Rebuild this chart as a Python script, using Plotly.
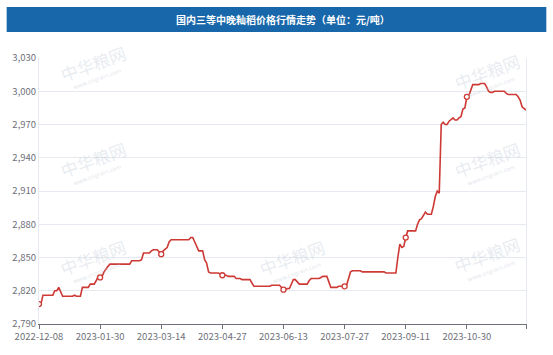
import pandas as pd
import plotly.graph_objects as go

# ---- data -------------------------------------------------------------
title_text = "国内三等中晚籼稻价格行情走势（单位：元/吨）"

start_date = "2022-12-08"
end_date = "2023-12-11"
holidays = ["2023-01-02", "2023-01-23", "2023-01-24", "2023-01-25", "2023-01-26",
            "2023-01-27", "2023-04-05", "2023-05-01", "2023-05-02", "2023-05-03",
            "2023-06-22", "2023-06-23", "2023-09-29", "2023-10-02", "2023-10-03",
            "2023-10-04", "2023-10-05", "2023-10-06", "2023-08-15"]
extra_days = ["2023-05-06", "2023-06-25", "2023-10-07", "2023-10-08"]

tick_labels = ["2022-12-08", "2023-01-30", "2023-03-14", "2023-04-27",
               "2023-06-13", "2023-07-27", "2023-09-11", "2023-10-30"]

prices = [
    2808, 2808, 2816, 2816, 2816, 2816, 2816, 2816, 2820, 2820,
    2823, 2819, 2815, 2815, 2815, 2815, 2815, 2815, 2816, 2815,
    2815, 2815, 2823, 2823, 2823, 2823, 2826, 2826, 2826, 2829,
    2833, 2832, 2833, 2837, 2840, 2842, 2844, 2844, 2844, 2844,
    2844, 2844, 2844, 2844, 2844, 2844, 2844, 2847, 2847, 2847,
    2847, 2847, 2848, 2854, 2854, 2854, 2854, 2856, 2857, 2857,
    2857, 2855, 2853, 2856, 2858, 2859, 2864, 2866, 2866, 2866,
    2866, 2866, 2866, 2866, 2866, 2866, 2866, 2868, 2868, 2864,
    2859, 2856, 2856, 2856, 2848, 2845, 2837, 2836, 2836, 2836,
    2836, 2836, 2835, 2834, 2834, 2834, 2833, 2833, 2833, 2833,
    2831, 2831, 2831, 2830, 2830, 2830, 2830, 2830, 2827, 2824,
    2824, 2824, 2824, 2824, 2824, 2824, 2824, 2824, 2825, 2825,
    2825, 2825, 2825, 2823, 2821, 2821, 2822, 2822, 2826, 2830,
    2830, 2828, 2826, 2826, 2826, 2826, 2826, 2829, 2831, 2831,
    2831, 2831, 2831, 2832, 2833, 2833, 2833, 2828, 2823, 2823,
    2823, 2823, 2824, 2824, 2824, 2824, 2825, 2831, 2837, 2838,
    2838, 2838, 2838, 2838, 2837, 2837, 2837, 2837, 2837, 2837,
    2837, 2837, 2837, 2837, 2837, 2837, 2836, 2836, 2836, 2836,
    2836, 2836, 2850, 2862, 2859, 2860, 2868, 2874, 2874, 2874,
    2874, 2874, 2880, 2884, 2885, 2888, 2891, 2889, 2889, 2889,
    2896, 2905, 2910, 2908, 2970, 2972, 2970, 2970, 2973, 2975,
    2976, 2974, 2974, 2976, 2977, 2984, 2985, 2995, 2996, 3001,
    3006, 3006, 3006, 3006, 3007, 3007, 3007, 3004, 3000, 2999,
    2999, 3000, 3000, 3000, 3000, 3000, 3000, 2998, 2997, 2997,
    2997, 2997, 2997, 2995, 2992, 2986, 2984, 2983,
]

# trading-day categories
days = set(pd.bdate_range(start_date, end_date).strftime("%Y-%m-%d"))
days = (days - set(holidays)) | set(extra_days)
dates = sorted(days)
assert len(dates) == len(prices), (len(dates), len(prices))

marker_dates = [d for d in tick_labels if d in dates]
marker_prices = [prices[dates.index(d)] for d in marker_dates]

# ---- figure -----------------------------------------------------------
RED = "#cd3a35"
GRID = "#e6e9f0"
AXIS = "#6e7079"

fig = go.Figure()
fig.add_trace(go.Scatter(x=dates, y=prices, mode="lines",
                         line=dict(color=RED, width=1.6), hoverinfo="x+y",
                         showlegend=False))
fig.add_trace(go.Scatter(x=marker_dates, y=marker_prices, mode="markers",
                         marker=dict(symbol="circle", size=5, color="white",
                                     line=dict(color=RED, width=1.3)),
                         showlegend=False))

# watermark (faint, behind the data)
wm_positions = [(0.11, 0.98), (0.11, 0.62), (0.11, 0.25),
                (0.52, 0.25), (0.92, 0.95), (0.92, 0.62), (0.92, 0.26)]
annotations = []
for wx, wy in wm_positions:
    annotations.append(dict(x=wx, y=wy, xref="paper", yref="paper", xanchor="center",
                            yanchor="middle", text="中华粮网", showarrow=False,
                            textangle=-20,
                            font=dict(size=17, color="rgba(190,198,212,0.35)",
                                      family="Noto Sans CJK SC")))
    annotations.append(dict(x=wx + 0.01, y=wy - 0.06, xref="paper", yref="paper",
                            xanchor="center", yanchor="middle", text="www.cngrain.com",
                            showarrow=False, textangle=-20,
                            font=dict(size=6, color="rgba(190,198,212,0.45)",
                                      family="Noto Sans")))

# title bar
annotations.append(dict(x=0.5, y=(334 - 18) / 276, xref="paper", yref="paper",
                        xanchor="center", yanchor="middle", showarrow=False,
                        text="<b>" + title_text + "</b>",
                        font=dict(size=10, color="white", family="Noto Sans CJK SC")))

shapes = [
    dict(type="rect", xref="paper", yref="paper",
         x0=(7 - 39.3) / 486.4, x1=(546 - 39.3) / 486.4,
         y0=(334 - 31) / 276, y1=(334 - 5) / 276,
         fillcolor="#1767aa", line=dict(width=0), layer="below"),
]

fig.update_layout(
    width=553, height=355,
    margin=dict(l=39.3, r=553 - 525.7, t=58, b=21),
    paper_bgcolor="white", plot_bgcolor="white",
    font=dict(family="Noto Sans CJK SC, Noto Sans", size=9.5, color=AXIS),
    annotations=annotations, shapes=shapes,
    xaxis=dict(type="category", range=[0, len(dates) - 1],
               tickmode="array",
               tickvals=tick_labels + [dates[-1]],
               ticktext=tick_labels + [""],
               showgrid=False, zeroline=False,
               showline=True, linecolor=AXIS, linewidth=1,
               ticks="outside", ticklen=4, tickcolor=AXIS,
               tickfont=dict(size=9.5, color=AXIS)),
    yaxis=dict(range=[2790, 3030], dtick=30, tick0=2790, tickformat=",",
               showgrid=True, gridcolor=GRID, gridwidth=1,
               zeroline=False, showline=True, linecolor=GRID, mirror=True,
               ticks="", tickfont=dict(size=9.5, color=AXIS)),
)

fig.write_html("out.html")
